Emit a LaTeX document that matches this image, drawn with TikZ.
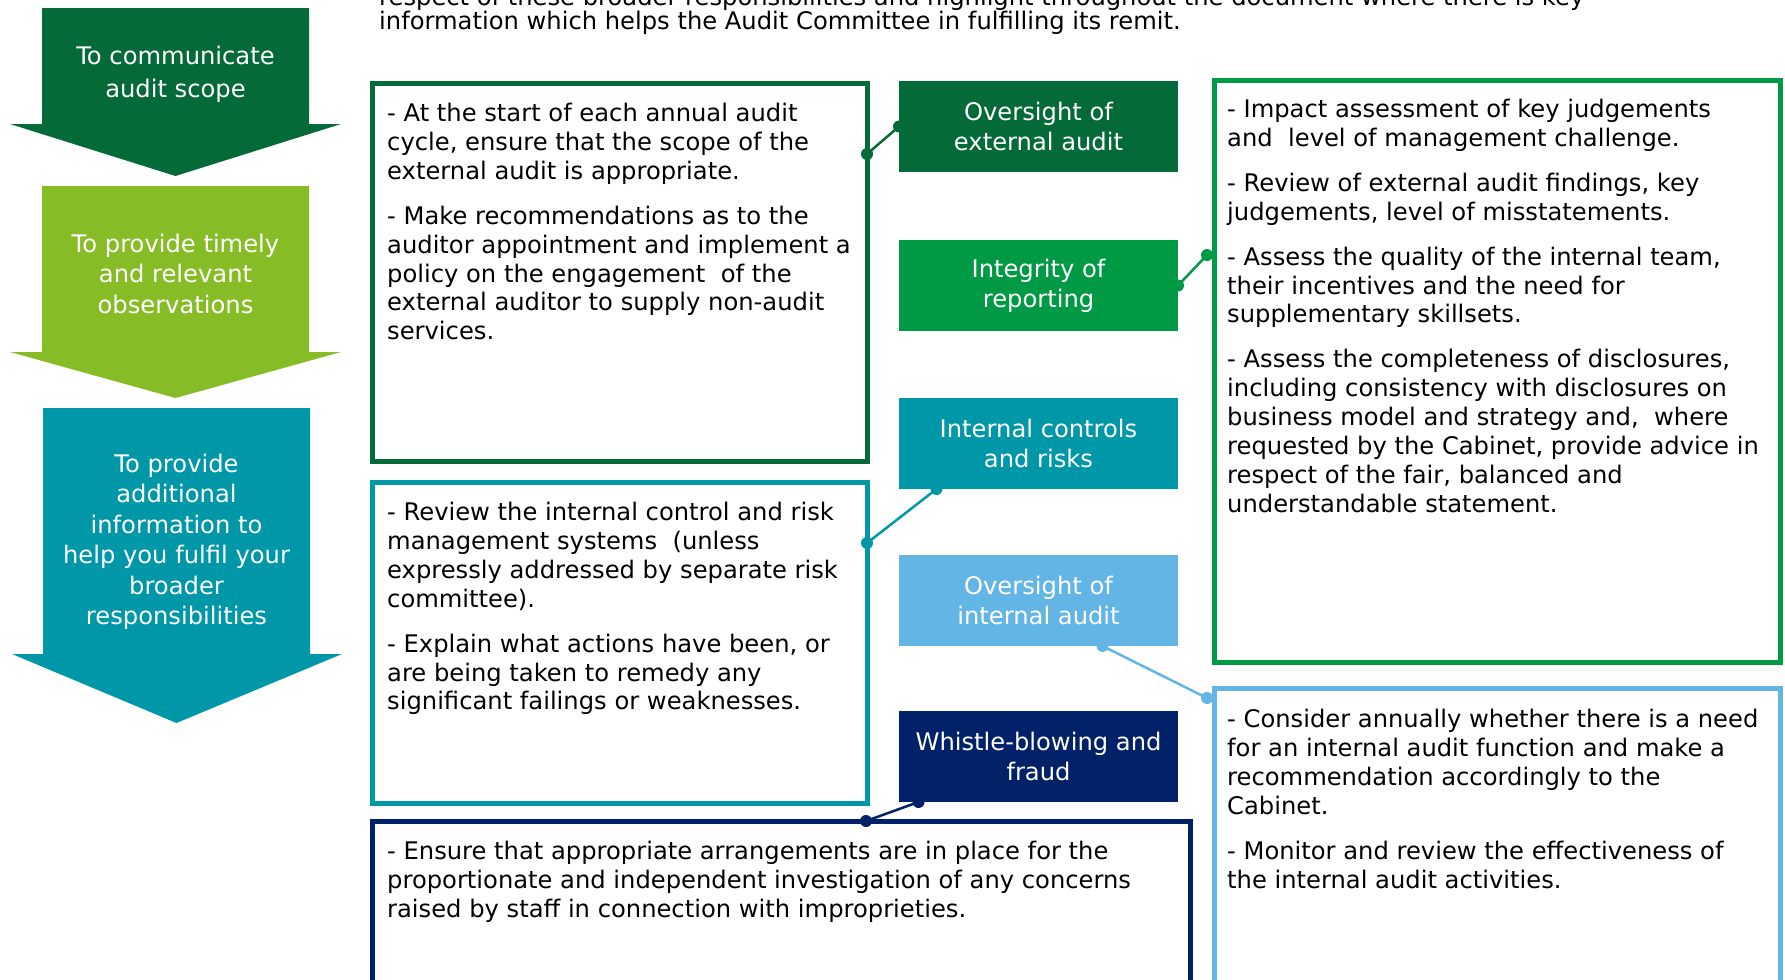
\documentclass[tikz,border=0pt]{standalone}
\usepackage{fontspec}
\setmainfont{DejaVu Sans}
\usetikzlibrary{calc}
\definecolor{extgreen}{HTML}{046A38}
\definecolor{limegreen}{HTML}{86BC25}
\definecolor{tealblue}{HTML}{0097A9}
\definecolor{repgreen}{HTML}{009A44}
\definecolor{skyblue}{HTML}{62B5E5}
\definecolor{navyblue}{HTML}{012169}
\begin{document}
\begin{tikzpicture}[x=1bp, y=-1bp,
  aim/.style={text=white, align=center, anchor=north, inner sep=0pt,
    font=\fontsize{24.3}{30.5}\selectfont},
  lab/.style={anchor=north west, minimum width=279bp, minimum height=91bp,
    inner sep=0pt, outer sep=0pt, text=white, align=center,
    font=\fontsize{24.3}{30}\selectfont},
  frame/.style={draw, line width=5bp, anchor=north west, inner sep=0pt, outer sep=0pt},
  body/.style={anchor=north west, inner sep=0pt, align=left,
    font=\fontsize{24.3}{29}\selectfont},
  link/.style={line width=2.5bp}]
  \useasboundingbox (0,0) rectangle (1785,979);
  % Intro text (cut at the top)
  \node[body, anchor=base west] (introA) at (379,5) {respect of these broader responsibilities and highlight throughout the document where there is key};
  \node[body, anchor=base west] (introB) at (379,29) {information which helps the Audit Committee in fulfilling its remit.};
  % Aim arrows
  \fill[extgreen] (42,8) -- (309,8) -- (309,124) -- (341,124) -- (175.5,176) -- (10,124) -- (42,124) -- cycle;
  \node[aim] (aimScope) at (175.5,45.5) {To communicate\\[3bp]audit scope};
  \fill[limegreen] (42,186) -- (309,186) -- (309,352) -- (341,352) -- (175.5,398) -- (10,352) -- (42,352) -- cycle;
  \node[aim] (aimTimely) at (175.5,234) {To provide timely\\and relevant\\observations};
  \fill[tealblue] (43,408) -- (310,408) -- (310,654) -- (342,654) -- (176.5,723) -- (12,654) -- (43,654) -- cycle;
  \node[aim] (aimInfo) at (176.5,454) {To provide\\additional\\information to\\help you fulfil your\\broader\\responsibilities};
  % Topic labels
  \node[lab, fill=extgreen] (labExt) at (899,81) {Oversight of\\external audit};
  \node[lab, fill=repgreen] (labRep) at (899,240) {Integrity of\\reporting};
  \node[lab, fill=tealblue] (labInt) at (899,398) {Internal controls\\and risks};
  \node[lab, fill=skyblue] (labIa) at (899,555) {Oversight of\\internal audit};
  \node[lab, fill=navyblue] (labWb) at (899,711) {Whistle-blowing and\\fraud};
  % Frames
  \node[frame, draw=extgreen, minimum width=495bp, minimum height=378bp] (frExt) at (372,83) {};
  \node[frame, draw=tealblue, minimum width=495bp, minimum height=321bp] (frInt) at (372,482) {};
  \node[frame, draw=navyblue, minimum width=818bp, minimum height=200bp] (frWb) at (372,821) {};
  \node[frame, draw=repgreen, minimum width=566bp, minimum height=582bp] (frRep) at (1214,80) {};
  \node[frame, draw=skyblue, minimum width=566bp, minimum height=320bp] (frIa) at (1214,688) {};
  % Frame texts
  \node[body] (txtExt) at (387,103) {- At the start of each annual audit\\
    cycle, ensure that the scope of the\\
    external audit is appropriate.\\[16bp]
    - Make recommendations as to the\\
    auditor appointment and implement a\\
    policy on the engagement\ \ of the\\
    external auditor to supply non-audit\\
    services.};
  \node[body] (txtInt) at (387,502) {- Review the internal control and risk\\
    management systems\ \ (unless\\
    expressly addressed by separate risk\\
    committee).\\[16bp]
    - Explain what actions have been, or\\
    are being taken to remedy any\\
    significant failings or weaknesses.};
  \node[body] (txtWb) at (387,841) {- Ensure that appropriate arrangements are in place for the\\
    proportionate and independent investigation of any concerns\\
    raised by staff in connection with improprieties.};
  \node[body] (txtRep) at (1227,99) {- Impact assessment of key judgements\\
    and\ \ level of management challenge.\\[16bp]
    - Review of external audit findings, key\\
    judgements, level of misstatements.\\[16bp]
    - Assess the quality of the internal team,\\
    their incentives and the need for\\
    supplementary skillsets.\\[16bp]
    - Assess the completeness of disclosures,\\
    including consistency with disclosures on\\
    business model and strategy and,\ \ where\\
    requested by the Cabinet, provide advice in\\
    respect of the fair, balanced and\\
    understandable statement.};
  \node[body] (txtIa) at (1227,709) {- Consider annually whether there is a need\\
    for an internal audit function and make a\\
    recommendation accordingly to the\\
    Cabinet.\\[16bp]
    - Monitor and review the effectiveness of\\
    the internal audit activities.};
  % Links between labels and frames
  \coordinate (pExt) at ([yshift=-71bp]frExt.north east);
  \coordinate (pRep) at ([xshift=-7bp,yshift=-175bp]frRep.north west);
  \coordinate (pInt) at ([yshift=-61bp]frInt.north east);
  \coordinate (pIa) at ([xshift=-7bp,yshift=-10bp]frIa.north west);
  \coordinate (pWb) at ([xshift=494bp]frWb.north west);
  \coordinate (qInt) at ([xshift=-102bp]labInt.south);
  \coordinate (qIa) at ([xshift=64bp]labIa.south);
  \coordinate (qWb) at ([xshift=-120bp]labWb.south);
  \draw[link, extgreen] (labExt.west) -- (pExt);
  \fill[extgreen] (labExt.west) circle (6bp) (pExt) circle (6bp);
  \draw[link, repgreen] (labRep.east) -- (pRep);
  \fill[repgreen] (labRep.east) circle (6bp) (pRep) circle (6bp);
  \draw[link, tealblue] (qInt) -- (pInt);
  \fill[tealblue] (qInt) circle (6bp) (pInt) circle (6bp);
  \draw[link, skyblue] (qIa) -- (pIa);
  \fill[skyblue] (qIa) circle (6bp) (pIa) circle (6bp);
  \draw[link, navyblue] (qWb) -- (pWb);
  \fill[navyblue] (qWb) circle (6bp) (pWb) circle (6bp);
\end{tikzpicture}
\end{document}
